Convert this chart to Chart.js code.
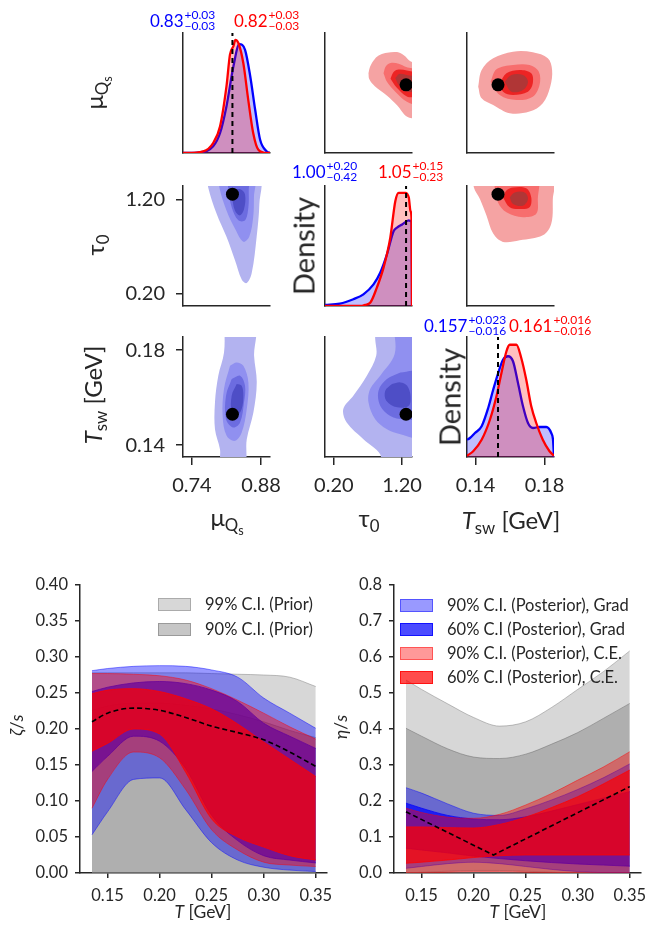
<!DOCTYPE html>
<html>
<head>
<meta charset="utf-8">
<script src="https://cdn.jsdelivr.net/npm/chart.js@4.4.1/dist/chart.umd.min.js"></script>
<style>
html,body{margin:0;padding:0;background:#fff;overflow:hidden;}
#wrap{position:relative;width:647px;height:928px;overflow:hidden;background:#fff;font-family:Lato,"DejaVu Sans",sans-serif;color:#262626;}
#wrap canvas{position:absolute;}
.lbl{position:absolute;white-space:nowrap;line-height:1;}
.rot{transform:translate(-50%,-50%) rotate(-90deg);}
.ctr{transform:translate(-50%,-50%);}
sub{font-size:0.7em;vertical-align:-0.3em;line-height:0;}
sub sub{font-size:0.75em;vertical-align:-0.25em;}
.ttl{position:absolute;display:flex;align-items:center;transform:translateY(-50%);font-size:17px;white-space:nowrap;line-height:1;}
.stk{display:flex;flex-direction:column;font-size:12px;line-height:10.5px;margin-left:1px;}
.leg{position:absolute;font-size:16.5px;line-height:1;white-space:nowrap;}
.leg .row{display:flex;align-items:center;}
.leg .sw{display:inline-block;width:31px;height:11px;border:1px solid;margin-right:14px;}
</style>
</head>
<body>
<div id="wrap"></div>
<script>
// ================= DATA =================
// truth values
const truthMu = 0.822, truthTau = 1.258, truthTsw = 0.153;
// axis ranges of the corner plot
const muRange = [0.722, 0.898];
const tauRange = [0.07, 1.345];
const tswRange = [0.135, 0.1855];
const muTicks = [0.74, 0.88];
const tauTicks = [0.20, 1.20];
const tswTicks = [0.14, 0.18];

// 1D marginal densities
const muKdeX_grad = [0.722, 0.756, 0.783, 0.797, 0.810, 0.824, 0.836, 0.8475, 0.858, 0.868, 0.878, 0.8915, 0.898];
const muKdeY_grad = [0, 0.17, 1.67, 5.0, 11.7, 21.7, 27.2, 25.8, 19.2, 10.8, 3.3, 0.4, 0];
const muKdeX_ce = [0.722, 0.729, 0.763, 0.783, 0.797, 0.810, 0.817, 0.824, 0.828, 0.834, 0.844, 0.854, 0.864, 0.8745, 0.8915, 0.898];
const muKdeY_ce = [0, 0, 0.4, 2.5, 6.7, 16.7, 24.6, 26.7, 28.3, 27.5, 22.5, 13.3, 5.0, 0.8, 0, 0];

const tauKdeX_grad = [0.07, 0.289, 0.485, 0.633, 0.781, 0.879, 0.978, 1.076, 1.126, 1.2, 1.298, 1.323, 1.338, 1.345];
const tauKdeY_grad = [0.025, 0.06, 0.17, 0.29, 0.54, 0.83, 1.29, 1.875, 1.96, 2.04, 2.14, 2.125, 2.1, 0];
const tauKdeX_ce = [0.07, 0.60, 0.658, 0.732, 0.83, 0.928, 1.027, 1.101, 1.15, 1.249, 1.298, 1.323, 1.338, 1.345];
const tauKdeY_ce = [0, 0, 0.03, 0.08, 0.46, 0.96, 1.71, 2.625, 2.83, 2.83, 2.71, 2.375, 2.2, 0];

const tswKdeX_grad = [0.135, 0.1367, 0.1396, 0.1435, 0.1473, 0.1502, 0.1531, 0.1559, 0.1588, 0.1617, 0.1646, 0.1675, 0.1704, 0.1733, 0.1771, 0.1810, 0.1839, 0.1849, 0.1855];
const tswKdeY_grad = [6.9, 7.6, 9.6, 12.3, 19.6, 26.9, 33.6, 38.9, 40.3, 38.3, 29.6, 20.3, 13.6, 11.6, 12.0, 12.0, 9.6, 7.0, 0];
const tswKdeX_ce = [0.135, 0.1386, 0.1435, 0.1483, 0.1521, 0.1550, 0.1579, 0.1598, 0.1637, 0.1665, 0.1694, 0.1723, 0.1752, 0.1790, 0.1829, 0.1855];
const tswKdeY_ce = [0.5, 2.3, 6.9, 14.9, 24.3, 33.6, 42.3, 44.9, 44.9, 39.6, 30.9, 20.3, 13.6, 6.9, 2.3, 0.5];
const densMax = [30, 3.0, 48];

// 2D contour levels (outer -> core), points [x, y]
// C.E. : (tau0, muQs)
const ceTauMu1 = [[0.707,0.839],[0.732,0.849],[0.80,0.860],[0.879,0.866],[0.98,0.869],[1.126,0.870],[1.23,0.865],[1.30,0.858],[1.40,0.85],[1.40,0.775],[1.274,0.775],[1.126,0.792],[0.98,0.806],[0.80,0.82],[0.72,0.83]];
const ceTauMu2 = [[0.928,0.839],[0.96,0.849],[1.03,0.854],[1.15,0.853],[1.26,0.848],[1.40,0.843],[1.40,0.795],[1.27,0.797],[1.10,0.812],[0.98,0.826]];
const ceTauMu3 = [[1.03,0.831],[1.07,0.840],[1.13,0.844],[1.27,0.843],[1.40,0.838],[1.40,0.806],[1.27,0.805],[1.12,0.818]];
const ceTauMu4 = [[1.10,0.832],[1.16,0.838],[1.28,0.836],[1.40,0.833],[1.40,0.814],[1.28,0.812],[1.15,0.822]];
// C.E. : (Tsw, muQs)
const ceTswMu1 = [[0.1415,0.8193],[0.1435,0.8437],[0.1502,0.8608],[0.1617,0.8706],[0.1732,0.8697],[0.1819,0.8608],[0.1844,0.8437],[0.1833,0.8193],[0.1790,0.795],[0.1713,0.7827],[0.1598,0.7803],[0.1502,0.7924],[0.1435,0.8022]];
const ceTswMu2 = [[0.1487,0.8266],[0.1521,0.8447],[0.1617,0.8511],[0.1713,0.8511],[0.1767,0.8413],[0.1771,0.8217],[0.1732,0.8046],[0.1637,0.7997],[0.1540,0.8071]];
const ceTswMu3 = [[0.1540,0.8242],[0.1579,0.8389],[0.1656,0.8437],[0.1723,0.8389],[0.1732,0.8242],[0.1704,0.8119],[0.1617,0.8071],[0.1559,0.8119]];
const ceTswMu4 = [[0.1569,0.8266],[0.1608,0.8364],[0.1675,0.8364],[0.1704,0.8266],[0.1675,0.8144],[0.1608,0.8119]];
// C.E. : (Tsw, tau0)
const ceTswTau1 = [[0.1390,1.45],[0.1390,1.33],[0.1425,1.207],[0.1463,1.032],[0.1502,0.839],[0.1559,0.751],[0.1656,0.768],[0.1790,0.821],[0.1839,0.944],[0.1848,1.2],[0.1846,1.45]];
const ceTswTau2 = [[0.1505,1.45],[0.1511,1.33],[0.1530,1.171],[0.1579,1.066],[0.1675,1.014],[0.1752,1.049],[0.1761,1.207],[0.1755,1.45]];
const ceTswTau3 = [[0.1559,1.224],[0.1580,1.30],[0.1617,1.33],[0.1694,1.32],[0.1723,1.224],[0.1713,1.119],[0.1656,1.101],[0.1598,1.119]];
const ceTswTau4 = [[0.1598,1.224],[0.1627,1.276],[0.1685,1.276],[0.1704,1.207],[0.1675,1.136],[0.1617,1.154]];
// Grad : (muQs, tau0)
const gradMuTau1 = [[0.772,1.45],[0.773,1.33],[0.790,1.05],[0.810,0.805],[0.827,0.56],[0.841,0.35],[0.851,0.314],[0.861,0.42],[0.871,0.805],[0.8765,1.156],[0.875,1.45]];
const gradMuTau2 = [[0.795,1.45],[0.7956,1.33],[0.810,1.085],[0.827,0.893],[0.844,0.753],[0.856,0.805],[0.864,1.015],[0.8655,1.226],[0.865,1.45]];
const gradMuTau3 = [[0.812,1.45],[0.8137,1.31],[0.8205,1.12],[0.834,0.98],[0.8475,0.98],[0.8543,1.12],[0.855,1.31],[0.855,1.45]];
const gradMuTau4 = [[0.8205,1.256],[0.827,1.085],[0.8374,1.033],[0.8455,1.1],[0.8475,1.256],[0.838,1.31],[0.826,1.30]];
// Grad : (muQs, Tsw)
const gradMuTsw1 = [[0.806,0.19],[0.805,0.1790],[0.7934,0.1692],[0.7867,0.158],[0.7867,0.1467],[0.7968,0.1383],[0.800,0.13],[0.845,0.13],[0.851,0.1425],[0.8645,0.1538],[0.8712,0.1664],[0.8658,0.1776],[0.866,0.19]];
const gradMuTsw2 = [[0.8171,0.1734],[0.8049,0.1636],[0.8022,0.1523],[0.8103,0.1439],[0.8272,0.1418],[0.8407,0.1453],[0.851,0.1552],[0.8543,0.1664],[0.8441,0.1734],[0.8306,0.1748]];
const gradMuTsw3 = [[0.8205,0.1678],[0.809,0.1608],[0.809,0.1509],[0.8238,0.1474],[0.8374,0.1495],[0.8455,0.158],[0.8475,0.165],[0.8374,0.1692]];
const gradMuTsw4 = [[0.8306,0.1657],[0.8205,0.1608],[0.8205,0.1538],[0.8306,0.1523],[0.8407,0.1552],[0.8441,0.1608],[0.8407,0.165]];
// Grad : (tau0, Tsw)
const gradTauTsw1 = [[0.80,0.19],[0.806,0.1846],[0.82,0.1776],[0.683,0.1692],[0.485,0.1608],[0.338,0.1552],[0.388,0.1495],[0.633,0.1425],[0.879,0.1362],[0.90,0.13],[1.40,0.13],[1.40,0.19]];
const gradTauTsw2 = [[1.076,0.19],[1.091,0.1783],[0.879,0.1692],[0.732,0.1636],[0.707,0.158],[0.806,0.1509],[0.978,0.1467],[1.175,0.1446],[1.40,0.1439],[1.40,0.19]];
const gradTauTsw3 = [[1.175,0.1706],[0.978,0.1678],[0.854,0.1629],[0.879,0.1566],[1.027,0.1523],[1.224,0.1509],[1.40,0.1515],[1.40,0.1706]];
const gradTauTsw4 = [[1.052,0.1657],[0.953,0.1629],[0.968,0.1587],[1.126,0.1559],[1.298,0.1566],[1.323,0.1608],[1.274,0.165],[1.175,0.1664]];

// ---- temperature-dependent viscosities ----
const tGrid = [0.135, 0.15, 0.175, 0.2, 0.225, 0.25, 0.275, 0.3, 0.325, 0.35];
const tRange = [0.1235, 0.3608];
const tTicks = [0.15, 0.20, 0.25, 0.30, 0.35];
const zetaTicks = [0, 0.05, 0.10, 0.15, 0.20, 0.25, 0.30, 0.35, 0.40];
const etaTicks = [0, 0.1, 0.2, 0.3, 0.4, 0.5, 0.6, 0.7, 0.8];

const zetaPrior99Lo = [0, 0, 0, 0, 0, 0, 0, 0, 0, 0];
const zetaPrior99Hi = [0.278, 0.278, 0.278, 0.278, 0.278, 0.277, 0.276, 0.275, 0.272, 0.259];
const zetaPrior90Lo = [0, 0, 0, 0, 0, 0, 0, 0, 0, 0];
const zetaPrior90Hi = [0.226, 0.232, 0.236, 0.236, 0.233, 0.228, 0.22, 0.21, 0.198, 0.188];
const zetaGrad90Lo = [0.053, 0.085, 0.13, 0.132, 0.088, 0.042, 0.018, 0.008, 0.004, 0.002];
const zetaGrad90Hi = [0.281, 0.284, 0.287, 0.288, 0.287, 0.282, 0.272, 0.243, 0.222, 0.201];
const zetaGrad60Lo = [0.141, 0.162, 0.19, 0.183, 0.145, 0.08, 0.045, 0.024, 0.018, 0.014];
const zetaGrad60Hi = [0.252, 0.258, 0.264, 0.266, 0.263, 0.254, 0.238, 0.208, 0.19, 0.173];
const zetaCe90Lo = [0.09, 0.13, 0.168, 0.16, 0.116, 0.06, 0.032, 0.015, 0.011, 0.009];
const zetaCe90Hi = [0.277, 0.277, 0.276, 0.274, 0.268, 0.256, 0.24, 0.222, 0.203, 0.186];
const zetaCe60Lo = [0.169, 0.18, 0.2, 0.193, 0.14, 0.075, 0.05, 0.036, 0.024, 0.018];
const zetaCe60Hi = [0.249, 0.254, 0.256, 0.252, 0.242, 0.228, 0.207, 0.182, 0.158, 0.134];
const zetaTruth = [0.21, 0.222, 0.229, 0.226, 0.216, 0.204, 0.195, 0.185, 0.168, 0.148];

const etaPrior99Lo = [0, 0, 0, 0, 0, 0, 0, 0, 0, 0];
const etaPrior99Hi = [0.536, 0.51, 0.47, 0.432, 0.408, 0.42, 0.46, 0.51, 0.56, 0.617];
const etaPrior90Lo = [0, 0.002, 0.005, 0.007, 0.007, 0.005, 0.002, 0, 0, 0];
const etaPrior90Hi = [0.402, 0.38, 0.345, 0.322, 0.318, 0.33, 0.358, 0.39, 0.43, 0.471];
const etaGrad90Lo = [0.013, 0.018, 0.026, 0.03, 0.026, 0.018, 0.01, 0.004, 0.001, 0];
const etaGrad90Hi = [0.237, 0.222, 0.192, 0.166, 0.16, 0.178, 0.203, 0.232, 0.265, 0.303];
const etaGrad60Lo = [0.069, 0.064, 0.056, 0.047, 0.04, 0.034, 0.029, 0.025, 0.022, 0.019];
const etaGrad60Hi = [0.194, 0.18, 0.16, 0.15, 0.148, 0.156, 0.172, 0.19, 0.208, 0.226];
const etaCe90Lo = [0, 0, 0.002, 0.004, 0.004, 0.002, 0, 0, 0, 0];
const etaCe90Hi = [0.18, 0.168, 0.155, 0.152, 0.163, 0.189, 0.221, 0.258, 0.295, 0.337];
const etaCe60Lo = [0.027, 0.03, 0.036, 0.043, 0.048, 0.05, 0.05, 0.05, 0.05, 0.05];
const etaCe60Hi = [0.128, 0.128, 0.126, 0.125, 0.135, 0.155, 0.182, 0.212, 0.248, 0.286];
const etaTruthT = [0.135, 0.219, 0.35];
const etaTruth = [0.17, 0.05, 0.24];

// ================= STYLE =================
const INK = '#262626';
const BLUE = '#0000ff', RED = '#ff0000';
const blueLevels = ['#b3b3f0', '#9090f0', '#6c6ce0', '#4e4ec6'];
const redLevels = ['#f5a3a3', '#f76e6e', '#ec2424', '#b03636'];
const C = {
  p99: ['rgba(140,140,140,0.35)', 'rgba(120,120,120,0.45)'],
  p90: ['rgba(128,128,128,0.45)', 'rgba(110,110,110,0.5)'],
  g90: ['rgba(0,0,255,0.4)', 'rgba(0,0,255,0.45)'],
  g60: ['rgba(0,0,255,0.7)', 'rgba(0,0,255,0.75)'],
  c90: ['rgba(255,0,0,0.4)', 'rgba(255,0,0,0.45)'],
  c60: ['rgba(255,0,0,0.7)', 'rgba(255,0,0,0.75)']
};

const wrap = document.getElementById('wrap');
const xy = (xs, ys) => xs.map((x, i) => ({x, y: ys[i]}));
const poly = arr => { const p = arr.map(([x, y]) => ({x, y})); p.push({x: arr[0][0], y: arr[0][1]}); return p; };

function axis(kind, range, ticks, fmt, size, font, tickLen, tickPad) {
  const o = {
    type: 'linear', min: range[0], max: range[1], position: kind === 'x' ? 'bottom' : 'left',
    border: {display: true, color: INK, width: 1.5},
    grid: {display: !!ticks, drawOnChartArea: false, drawTicks: true, tickLength: tickLen, color: INK, lineWidth: 1.5},
    ticks: {display: !!ticks, autoSkip: false, maxRotation: 0, minRotation: 0,
            font: {family: 'Lato', size: font}, color: INK, padding: tickPad, callback: fmt},
    afterFit: s => { if (kind === 'x') s.height = size; else s.width = size; }
  };
  if (ticks) o.afterBuildTicks = s => { s.ticks = ticks.map(v => ({value: v})); };
  return o;
}

function makeChart(cx, cy, cw, ch, padT, padR, xAxis, yAxis, datasets) {
  const c = document.createElement('canvas');
  c.width = cw; c.height = ch;
  Object.assign(c.style, {left: cx + 'px', top: cy + 'px', width: cw + 'px', height: ch + 'px'});
  wrap.appendChild(c);
  datasets.forEach((d, i) => { d.order = datasets.length - i; });
  return new Chart(c, {
    type: 'line',
    data: {datasets},
    options: {
      responsive: false, maintainAspectRatio: false, animation: false, devicePixelRatio: 1, events: [],
      layout: {padding: {left: 0, top: padT, right: padR, bottom: 0}},
      plugins: {legend: {display: false}, tooltip: {enabled: false}},
      elements: {point: {radius: 0, hoverRadius: 0}},
      scales: {x: xAxis, y: yAxis}
    }
  });
}

// ---- corner plot ----
const colX = [183, 325, 467], rowY = [33, 186, 337];
const PW = 87, PH = 120, ML = 70, MT = 32, MR = 30, MB = 50;
const f2 = v => Number(v).toFixed(2);

function corner(r, c, xr, yr, xt, yt, datasets) {
  makeChart(colX[c] - ML, rowY[r] - MT, PW + ML + MR, PH + MT + MB, MT, MR,
    axis('x', xr, xt, f2, MB, 20, 8, 9),
    axis('y', yr, yt, f2, ML, 20, 7, 11),
    datasets);
}
const kde = (xs, ys, col, fillc) => ({data: xy(xs, ys), borderColor: col, backgroundColor: fillc, borderWidth: 2.3,
  fill: 'origin', cubicInterpolationMode: 'monotone', pointRadius: 0});
const vline = (x, ymax) => ({data: [{x, y: 0}, {x, y: ymax}], borderColor: '#000', borderWidth: 2,
  borderDash: [5, 4], fill: false, pointRadius: 0});
const cont = (levels, cols) => levels.map((lv, i) => ({data: poly(lv), backgroundColor: cols[i], borderWidth: 0,
  fill: 'shape', tension: 0.35, pointRadius: 0}));
const dot = (x, y) => ({data: [{x, y}], showLine: false, pointRadius: 6.5, pointBackgroundColor: '#000',
  pointBorderColor: '#000', pointBorderWidth: 0});

// diagonal
corner(0, 0, muRange, [0, densMax[0]], null, null, [
  kde(muKdeX_grad, muKdeY_grad, BLUE, 'rgba(0,0,255,0.25)'),
  kde(muKdeX_ce, muKdeY_ce, RED, 'rgba(255,0,0,0.25)'),
  vline(truthMu, densMax[0])]);
corner(1, 1, tauRange, [0, densMax[1]], null, null, [
  kde(tauKdeX_grad, tauKdeY_grad, BLUE, 'rgba(0,0,255,0.25)'),
  kde(tauKdeX_ce, tauKdeY_ce, RED, 'rgba(255,0,0,0.25)'),
  vline(truthTau, densMax[1])]);
corner(2, 2, tswRange, [0, densMax[2]], tswTicks, null, [
  kde(tswKdeX_grad, tswKdeY_grad, BLUE, 'rgba(0,0,255,0.25)'),
  kde(tswKdeX_ce, tswKdeY_ce, RED, 'rgba(255,0,0,0.25)'),
  vline(truthTsw, densMax[2])]);
// upper triangle (C.E.)
corner(0, 1, tauRange, muRange, null, null,
  [...cont([ceTauMu1, ceTauMu2, ceTauMu3, ceTauMu4], redLevels), dot(truthTau, truthMu)]);
corner(0, 2, tswRange, muRange, null, null,
  [...cont([ceTswMu1, ceTswMu2, ceTswMu3, ceTswMu4], redLevels), dot(truthTsw, truthMu)]);
corner(1, 2, tswRange, tauRange, null, null,
  [...cont([ceTswTau1, ceTswTau2, ceTswTau3, ceTswTau4], redLevels), dot(truthTsw, truthTau)]);
// lower triangle (Grad)
corner(1, 0, muRange, tauRange, null, tauTicks,
  [...cont([gradMuTau1, gradMuTau2, gradMuTau3, gradMuTau4], blueLevels), dot(truthMu, truthTau)]);
corner(2, 0, muRange, tswRange, muTicks, tswTicks,
  [...cont([gradMuTsw1, gradMuTsw2, gradMuTsw3, gradMuTsw4], blueLevels), dot(truthMu, truthTsw)]);
corner(2, 1, tauRange, tswRange, tauTicks, null,
  [...cont([gradTauTsw1, gradTauTsw2, gradTauTsw3, gradTauTsw4], blueLevels), dot(truthTau, truthTsw)]);

// ---- bottom band charts ----
const band = (lo, hi, col) => [
  {data: xy(tGrid, lo), borderColor: col[1], borderWidth: 1, fill: false, pointRadius: 0, cubicInterpolationMode: 'monotone'},
  {data: xy(tGrid, hi), borderColor: col[1], borderWidth: 1, backgroundColor: col[0], fill: '-1', pointRadius: 0, cubicInterpolationMode: 'monotone'}
];
const dashLine = (xs, ys, mono) => ({data: xy(xs, ys), borderColor: '#000', borderWidth: 1.6, borderDash: [5, 3],
  fill: false, pointRadius: 0, cubicInterpolationMode: mono ? 'monotone' : 'default'});

makeChart(0, 555, 360, 365, 30, 33,
  axis('x', tRange, tTicks, f2, 47, 16.5, 5, 8),
  axis('y', [0, 0.4], zetaTicks, f2, 80, 16.5, 5, 7),
  [...band(zetaPrior99Lo, zetaPrior99Hi, C.p99), ...band(zetaPrior90Lo, zetaPrior90Hi, C.p90),
   ...band(zetaGrad90Lo, zetaGrad90Hi, C.g90), ...band(zetaGrad60Lo, zetaGrad60Hi, C.g60),
   ...band(zetaCe90Lo, zetaCe90Hi, C.c90), ...band(zetaCe60Lo, zetaCe60Hi, C.c60),
   dashLine(tGrid, zetaTruth, true)]);

makeChart(314, 555, 346, 365, 30, 19,
  axis('x', tRange, tTicks, f2, 47, 16.5, 5, 8),
  axis('y', [0, 0.8], etaTicks, v => Number(v).toFixed(1), 80, 16.5, 5, 7),
  [...band(etaPrior99Lo, etaPrior99Hi, C.p99), ...band(etaPrior90Lo, etaPrior90Hi, C.p90),
   ...band(etaGrad90Lo, etaGrad90Hi, C.g90), ...band(etaGrad60Lo, etaGrad60Hi, C.g60),
   ...band(etaCe90Lo, etaCe90Hi, C.c90), ...band(etaCe60Lo, etaCe60Hi, C.c60),
   dashLine(etaTruthT, etaTruth, false)]);

// ================= TEXT =================
function html(s) { wrap.insertAdjacentHTML('beforeend', s); }
// titles on the diagonal
function title(left, cy, col, main, up, dn) {
  html(`<div class="ttl" style="left:${left}px;top:${cy}px;color:${col}">${main}<span class="stk"><span>${up}</span><span>${dn}</span></span></div>`);
}
title(150, 20, BLUE, '0.83', '+0.03', '\u22120.03');
title(234, 20, RED, '0.82', '+0.03', '\u22120.03');
title(292, 171, BLUE, '1.00', '+0.20', '\u22120.42');
title(378, 171, RED, '1.05', '+0.15', '\u22120.23');
title(424, 325, BLUE, '0.157', '+0.023', '\u22120.016');
title(509, 325, RED, '0.161', '+0.016', '\u22120.016');

// corner axis labels
html('<div class="lbl rot" style="left:95px;top:93px;font-size:24px">\u03bc<sub>Q<sub>s</sub></sub></div>');
html('<div class="lbl rot" style="left:95px;top:245px;font-size:24px">\u03c4<sub>0</sub></div>');
html('<div class="lbl rot" style="left:93px;top:395px;font-size:24px"><i>T</i><sub>sw</sub> [GeV]</div>');
html('<div class="lbl rot" style="left:303px;top:246px;font-size:29px">Density</div>');
html('<div class="lbl rot" style="left:449px;top:397px;font-size:29px">Density</div>');
html('<div class="lbl ctr" style="left:227px;top:518px;font-size:24px">\u03bc<sub>Q<sub>s</sub></sub></div>');
html('<div class="lbl ctr" style="left:369px;top:518px;font-size:24px">\u03c4<sub>0</sub></div>');
html('<div class="lbl ctr" style="left:511px;top:520px;font-size:24px"><i>T</i><sub>sw</sub> [GeV]</div>');

// bottom axis labels
html('<div class="lbl rot" style="left:17px;top:725px;font-size:17.5px"><i>\u03b6</i>/<i>s</i></div>');
html('<div class="lbl rot" style="left:341px;top:727px;font-size:17.5px"><i>\u03b7</i>/<i>s</i></div>');
html('<div class="lbl ctr" style="left:203px;top:912px;font-size:17.5px"><i>T</i> [GeV]</div>');
html('<div class="lbl ctr" style="left:518px;top:912px;font-size:17.5px"><i>T</i> [GeV]</div>');

// legends
function legend(left, top, rowH, items) {
  const rows = items.map(([c, t]) =>
    `<div class="row" style="height:${rowH}px"><span class="sw" style="background:${c[0]};border-color:${c[1]}"></span>${t}</div>`).join('');
  html(`<div class="leg" style="left:${left}px;top:${top}px">${rows}</div>`);
}
legend(158, 592, 25, [[C.p99, '99% C.I. (Prior)'], [C.p90, '90% C.I. (Prior)']]);
legend(400, 593, 24, [[C.g90, '90% C.I. (Posterior), Grad'], [C.g60, '60% C.I (Posterior), Grad'],
                      [C.c90, '90% C.I. (Posterior), C.E.'], [C.c60, '60% C.I (Posterior), C.E.']]);
</script>
</body>
</html>
